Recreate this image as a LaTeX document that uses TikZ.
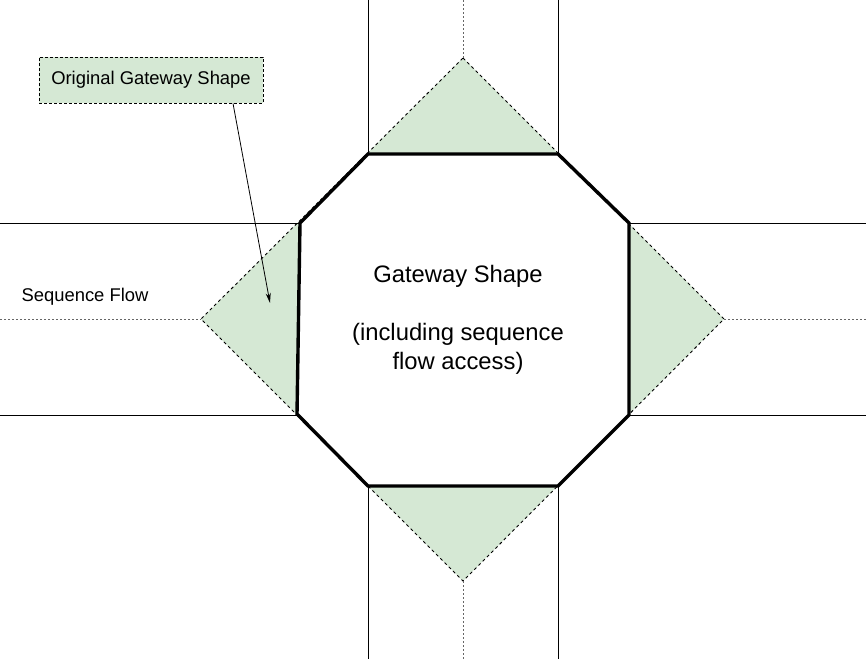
\documentclass[tikz,border=0pt]{standalone}
\usepackage{fontspec}
\setmainfont{Liberation Sans}
\usetikzlibrary{arrows.meta}
\definecolor{gwgreen}{HTML}{D5E8D4}
\tikzset{
  thinline/.style={draw=black, line width=0.9pt},
  flowdots/.style={draw=black!60, line width=0.8pt, dash pattern=on 2pt off 2pt},
  diamondedge/.style={draw=black, line width=0.9pt, dash pattern=on 3pt off 3pt},
  octedge/.style={draw=black, line width=3.4pt, line join=miter},
  labelbox/.style={draw=black, fill=gwgreen, line width=0.8pt, dash pattern=on 3pt off 2pt, minimum width=224pt, minimum height=46pt, inner sep=0pt, font=\fontsize{18.4pt}{22pt}\selectfont},
  plaintext/.style={inner sep=0pt, font=\fontsize{18.4pt}{22pt}\selectfont},
  bigtext/.style={inner sep=0pt, align=center, font=\fontsize{23.8pt}{28.5pt}\selectfont},
  pointer/.style={draw=black, line width=0.8pt, -{Stealth[length=10pt, width=5pt]}}
}
\begin{document}
\begin{tikzpicture}[x=1pt, y=-1pt]
\useasboundingbox (0,0) rectangle (866,659);
\fill[white] (0,0) rectangle (866,659);
% diamond corners
\coordinate (dN) at (463,58);
\coordinate (dE) at (724,319);
\coordinate (dS) at (463,581);
\coordinate (dW) at (201,319);
% octagon corners
\coordinate (o1) at (368,154);
\coordinate (o2) at (558,154);
\coordinate (o3) at (629,223);
\coordinate (o4) at (629,415);
\coordinate (o5) at (558,486);
\coordinate (o6) at (368,486);
\coordinate (o7) at (297,414);
\coordinate (o8) at (300,223);
% frame coordinates
\coordinate (tlTop) at (368,0);
\coordinate (trTop) at (558,0);
\coordinate (tlBot) at (368,659);
\coordinate (trBot) at (558,659);
\coordinate (lTop) at (0,223);
\coordinate (lBot) at (0,415);
\coordinate (lBotEnd) at (297,415);
\coordinate (rTop) at (866,223);
\coordinate (rBot) at (866,415);
\coordinate (cTop) at (463,0);
\coordinate (cBot) at (463,659);
\coordinate (cLeft) at (0,319);
\coordinate (cRight) at (866,319);
% diamond
\path[fill=gwgreen] (dN) -- (dE) -- (dS) -- (dW) -- cycle;
\draw[diamondedge] (dN) -- (dE) -- (dS) -- (dW) -- cycle;
% octagon
\path[fill=white] (o1) -- (o2) -- (o3) -- (o4) -- (o5) -- (o6) -- (o7) -- (o8) -- cycle;
% lanes
\draw[thinline] (tlTop) -- (o1);
\draw[thinline] (trTop) -- (o2);
\draw[thinline] (o6) -- (tlBot);
\draw[thinline] (o5) -- (trBot);
\draw[thinline] (lTop) -- (o8);
\draw[thinline] (lBot) -- (lBotEnd);
\draw[thinline] (o3) -- (rTop);
\draw[thinline] (o4) -- (rBot);
% sequence flow dotted
\draw[flowdots] (cTop) -- (dN);
\draw[flowdots] (dS) -- (cBot);
\draw[flowdots] (cLeft) -- (dW);
\draw[flowdots] (dE) -- (cRight);
% octagon outline
\draw[octedge] (o1) -- (o2) -- (o3) -- (o4) -- (o5) -- (o6) -- (o7) -- (o8) -- cycle;
% texts
\node[bigtext] (gw) at (458,320) {Gateway Shape\\[29.5pt](including sequence\\flow access)};
\node[plaintext] (sf) at (85,297) {Sequence Flow};
\node[labelbox] (orig) at (151,80) {Original Gateway Shape};
\coordinate (tip) at (270,303);
\draw[pointer] (orig.south -| 233,0) -- (tip);
\end{tikzpicture}
\end{document}
